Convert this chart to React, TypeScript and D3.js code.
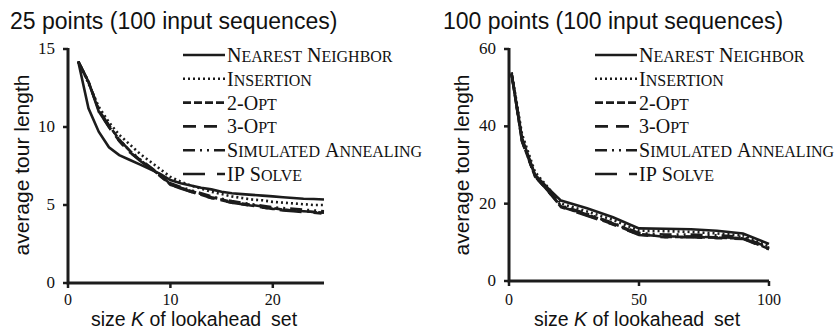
import * as d3 from 'd3'

// legend labels (small caps in the original)
const methods = ['Nearest Neighbor', 'Insertion', '2-Opt', '3-Opt', 'Simulated Annealing', 'IP Solve']

// 25 points
const k25 = [1, 2, 3, 4, 5, 6, 7, 8, 9, 10, 11, 12, 13, 14, 15, 16, 17, 18, 19, 20, 21, 22, 23, 24, 25]
const nn25 = [14.2, 11.2, 9.7, 8.7, 8.2, 7.9, 7.6, 7.3, 7.0, 6.6, 6.4, 6.25, 6.1, 6.0, 5.85, 5.75, 5.7, 5.65, 5.6, 5.55, 5.5, 5.45, 5.4, 5.38, 5.35]
const ins25 = [14.2, 12.8, 11.3, 10.3, 9.5, 8.9, 8.3, 7.8, 7.3, 6.8, 6.5, 6.25, 6.05, 5.85, 5.7, 5.55, 5.45, 5.35, 5.3, 5.2, 5.15, 5.1, 5.05, 5.0, 5.0]
const opt2_25 = [14.2, 12.9, 11.1, 10.1, 9.2, 8.5, 7.9, 7.4, 6.9, 6.3, 6.1, 5.9, 5.7, 5.5, 5.35, 5.2, 5.1, 5.0, 4.9, 4.8, 4.7, 4.65, 4.6, 4.55, 4.5]
const opt3_25 = [14.2, 12.9, 11.0, 10.0, 9.1, 8.4, 7.9, 7.4, 6.9, 6.35, 6.1, 5.85, 5.65, 5.45, 5.3, 5.15, 5.05, 4.95, 4.85, 4.75, 4.7, 4.65, 4.6, 4.55, 4.5]
const sa25 = [14.2, 12.9, 11.1, 10.1, 9.2, 8.5, 7.95, 7.45, 6.95, 6.4, 6.15, 5.95, 5.75, 5.55, 5.4, 5.25, 5.15, 5.05, 4.95, 4.85, 4.8, 4.75, 4.7, 4.65, 4.6]
const ip25 = [14.2, 12.9, 11.0, 10.0, 9.1, 8.4, 7.85, 7.35, 6.85, 6.3, 6.05, 5.85, 5.65, 5.45, 5.3, 5.15, 5.05, 4.95, 4.85, 4.75, 4.65, 4.6, 4.55, 4.5, 4.45]

// 100 points
const k100 = [1, 5, 10, 15, 20, 30, 40, 50, 60, 70, 80, 90, 100]
const nn100 = [53.7, 37.0, 27.5, 24.0, 20.8, 18.8, 16.5, 13.6, 13.5, 13.4, 13.0, 12.3, 9.6]
const ins100 = [54.0, 38.0, 28.2, 24.2, 20.0, 18.0, 15.8, 13.0, 12.9, 12.7, 12.3, 11.8, 9.0]
const opt2_100 = [53.5, 36.2, 27.0, 23.4, 19.3, 17.2, 14.9, 12.2, 11.4, 11.4, 11.2, 11.0, 8.3]
const opt3_100 = [53.5, 36.3, 27.2, 23.2, 19.2, 17.0, 14.7, 12.0, 11.5, 11.5, 11.3, 11.1, 8.4]
const sa100 = [53.6, 36.5, 27.3, 23.6, 19.5, 17.4, 15.0, 12.4, 12.0, 12.0, 11.8, 11.4, 8.6]
const ip100 = [53.5, 36.1, 27.0, 23.3, 19.1, 16.9, 14.6, 11.9, 11.3, 11.3, 11.1, 10.9, 8.2]

const xTicks25 = [0, 10, 20]
const yTicks25 = [0, 5, 10, 15]
const xTicks100 = [0, 50, 100]
const yTicks100 = [0, 20, 40, 60]

const dashes = ['', '2,3', '8,3', '13,8', '12,5,2,5,2,5', '22,12,8,12']
const ink = '#1c1c1c'
const serif = '"Liberation Serif", "Times New Roman", Times, serif'
const sans = '"Liberation Sans", Arial, sans-serif'

// hand-made small caps: capitals at full size, the rest as smaller capitals
const SmallCaps = ({ text, size }: { text: string; size: number }) => (
  <>
    {text.split('').map((c, i) =>
      c === c.toLowerCase() && c !== c.toUpperCase() ? (
        <tspan key={i} fontSize={size * 0.8}>
          {c.toUpperCase()}
        </tspan>
      ) : (
        <tspan key={i} fontSize={size}>
          {c === ' ' ? '\u00a0' : c}
        </tspan>
      )
    )}
  </>
)

type PanelProps = {
  title: string
  titleX: number
  ks: number[]
  series: number[][]
  xMax: number
  yMax: number
  xTicks: number[]
  yTicks: number[]
  xRange: [number, number]
  yRange: [number, number]
  yLabelX: number
  legendX: number
}

const Panel = ({ title, titleX, ks, series, xMax, yMax, xTicks, yTicks, xRange, yRange, yLabelX, legendX }: PanelProps) => {
  const x = d3.scaleLinear().domain([0, xMax]).range(xRange)
  const y = d3.scaleLinear().domain([0, yMax]).range(yRange)
  const line = d3
    .line<number>()
    .x((_, i) => x(ks[i]))
    .y(d => y(d))

  const x0 = xRange[0]
  const y0 = yRange[0]

  return (
    <g>
      <text x={titleX} y={29} fontFamily={sans} fontSize={23} fill="#111">
        {title}
      </text>

      {/* series, nearest neighbor drawn first */}
      {series.map((values, i) => (
        <path
          key={i}
          d={line(values) || ''}
          fill="none"
          stroke={ink}
          strokeWidth={2.6}
          strokeDasharray={dashes[i] || undefined}
        />
      ))}

      {/* axes */}
      <path d={`M ${x0} ${yRange[1] - 1} V ${y0} H ${xRange[1]}`} fill="none" stroke={ink} strokeWidth={3} />
      {yTicks.map(t => (
        <g key={t}>
          <path d={`M ${x0 - 5} ${y(t)} H ${x0}`} stroke={ink} strokeWidth={2.5} />
          <text x={x0 - 13} y={y(t) + 5} textAnchor="end" fontFamily={serif} fontSize={17} fill="#111">
            {t}
          </text>
        </g>
      ))}
      {xTicks.map(t => (
        <g key={t}>
          <path d={`M ${x(t)} ${y0} V ${y0 + 5}`} stroke={ink} strokeWidth={2.5} />
          <text x={x(t)} y={305} textAnchor="middle" fontFamily={serif} fontSize={16} fill="#111">
            {t}
          </text>
        </g>
      ))}

      <text
        transform={`translate(${yLabelX},${165}) rotate(-90)`}
        textAnchor="middle"
        fontFamily={sans}
        fontSize={21}
        fill="#111"
      >
        average tour length
      </text>
      <text x={(xRange[0] + xRange[1]) / 2 - 2} y={326} textAnchor="middle" fontFamily={sans} fontSize={19.5} fill="#111">
        size <tspan fontStyle="italic">K</tspan> of lookahead<tspan dx={10}>set</tspan>
      </text>

      {/* legend */}
      {methods.map((m, i) => {
        const base = 62 + i * 23.8
        return (
          <g key={m}>
            <path
              d={`M ${legendX} ${base - 7} h 42`}
              stroke={ink}
              strokeWidth={2.6}
              strokeDasharray={dashes[i] || undefined}
            />
            <text x={legendX + 44} y={base} fontFamily={serif} fill="#111">
              <SmallCaps text={m} size={20} />
            </text>
          </g>
        )
      })}
    </g>
  )
}

export default function App() {
  return (
    <div style={{ position: 'absolute', left: 0, top: 0 }}>
      <svg width={835} height={332} viewBox="0 0 835 332" style={{ display: 'block', background: '#fff' }}>
        <Panel
          title="25 points (100 input sequences)"
          titleX={10}
          ks={k25}
          series={[nn25, ins25, opt2_25, opt3_25, sa25, ip25]}
          xMax={25}
          yMax={15}
          xTicks={xTicks25}
          yTicks={yTicks25}
          xRange={[68, 324]}
          yRange={[283, 49]}
          yLabelX={29}
          legendX={183}
        />
        <Panel
          title="100 points (100 input sequences)"
          titleX={443}
          ks={k100}
          series={[nn100, ins100, opt2_100, opt3_100, sa100, ip100]}
          xMax={100}
          yMax={60}
          xTicks={xTicks100}
          yTicks={yTicks100}
          xRange={[509, 769]}
          yRange={[281, 49]}
          yLabelX={469}
          legendX={595}
        />
      </svg>
    </div>
  )
}
